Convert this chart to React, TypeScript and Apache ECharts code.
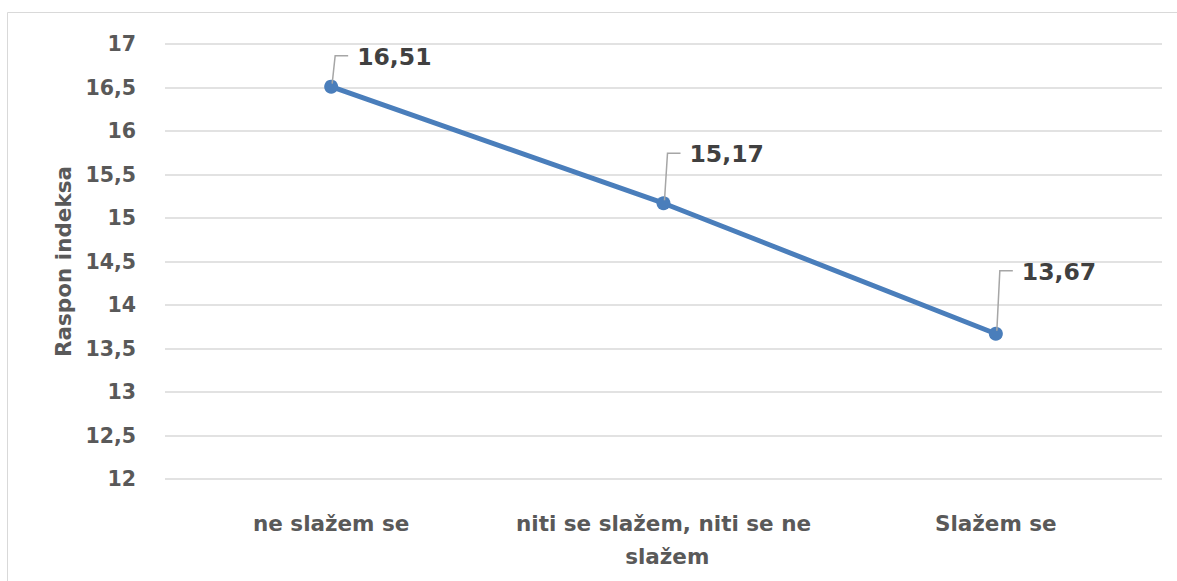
import React, { useEffect, useRef } from "react";
import * as echarts from "echarts";

const categories = ["ne slažem se", "niti se slažem, niti se ne slažem", "Slažem se"];
const values = [16.51, 15.17, 13.67];
const yTicks = { min: 12, max: 17, interval: 0.5 };
const yTitle = "Raspon indeksa";

// label callout rise above each point (layout only)
const LABEL_RISE = [31, 50, 63];

const FONT = "DejaVu Sans";
const fmt = (v: number) => String(v).replace(".", ",");

export default function App() {
  const ref = useRef<HTMLDivElement>(null);
  useEffect(() => {
    if (!ref.current) return;
    const chart = echarts.init(ref.current, null, { renderer: "svg" });
    chart.setOption({
      animation: false,
      backgroundColor: "#ffffff",
      graphic: [
        {
          type: "rect",
          shape: { x: 7.5, y: 12.5, width: 1300, height: 700 },
          style: { fill: "none", stroke: "#d9d9d9", lineWidth: 1 },
          silent: true,
          z: -10,
        },
      ],
      grid: { left: 165, right: 15, top: 44, bottom: 102, containLabel: false },
      xAxis: {
        type: "category",
        data: categories,
        boundaryGap: true,
        axisLine: { show: false },
        axisTick: { show: false },
        axisLabel: {
          fontFamily: FONT,
          fontWeight: "bold",
          fontSize: 21.5,
          color: "#595959",
          margin: 28,
          lineHeight: 33,
          width: 310,
          overflow: "break",
          interval: 0,
        },
      },
      yAxis: {
        type: "value",
        min: yTicks.min,
        max: yTicks.max,
        interval: yTicks.interval,
        name: yTitle,
        nameLocation: "middle",
        nameGap: 91,
        nameRotate: 90,
        nameTextStyle: {
          fontFamily: FONT,
          fontWeight: "bold",
          fontSize: 21.5,
          color: "#595959",
        },
        axisLine: { show: false },
        axisTick: { show: false },
        axisLabel: {
          fontFamily: FONT,
          fontWeight: "bold",
          fontSize: 20.5,
          color: "#595959",
          margin: 29,
          formatter: (v: number) => fmt(v),
        },
        splitLine: { lineStyle: { color: "#d9d9d9", width: 1.5 } },
      },
      series: [
        {
          type: "line",
          data: values,
          lineStyle: { color: "#4a7ebb", width: 5 },
          itemStyle: { color: "#4a7ebb" },
          symbol: "circle",
          symbolSize: 14,
          z: 2,
        },
        {
          type: "custom",
          data: values.map((v, i) => [i, v]),
          silent: true,
          z: 5,
          renderItem: (params: any, api: any) => {
            const i = params.dataIndex;
            const p = api.coord([api.value(0), api.value(1)]);
            const rise = LABEL_RISE[i];
            return {
              type: "group",
              children: [
                {
                  type: "polyline",
                  shape: {
                    points: [
                      [p[0] + 1, p[1] - 3],
                      [p[0] + 4, p[1] - rise],
                      [p[0] + 17, p[1] - rise],
                    ],
                  },
                  style: { stroke: "#a6a6a6", lineWidth: 1.5, fill: null },
                },
                {
                  type: "text",
                  x: p[0] + 26,
                  y: p[1] - rise + 1,
                  style: {
                    text: fmt(api.value(1)),
                    fontFamily: FONT,
                    fontWeight: "bold",
                    fontSize: 23.5,
                    fill: "#404040",
                    verticalAlign: "middle",
                    align: "left",
                  },
                },
              ],
            };
          },
        },
      ],
    });
    return () => chart.dispose();
  }, []);
  return (
    <div
      ref={ref}
      style={{ position: "fixed", left: 0, top: 0, width: 1177, height: 581 }}
    />
  );
}
